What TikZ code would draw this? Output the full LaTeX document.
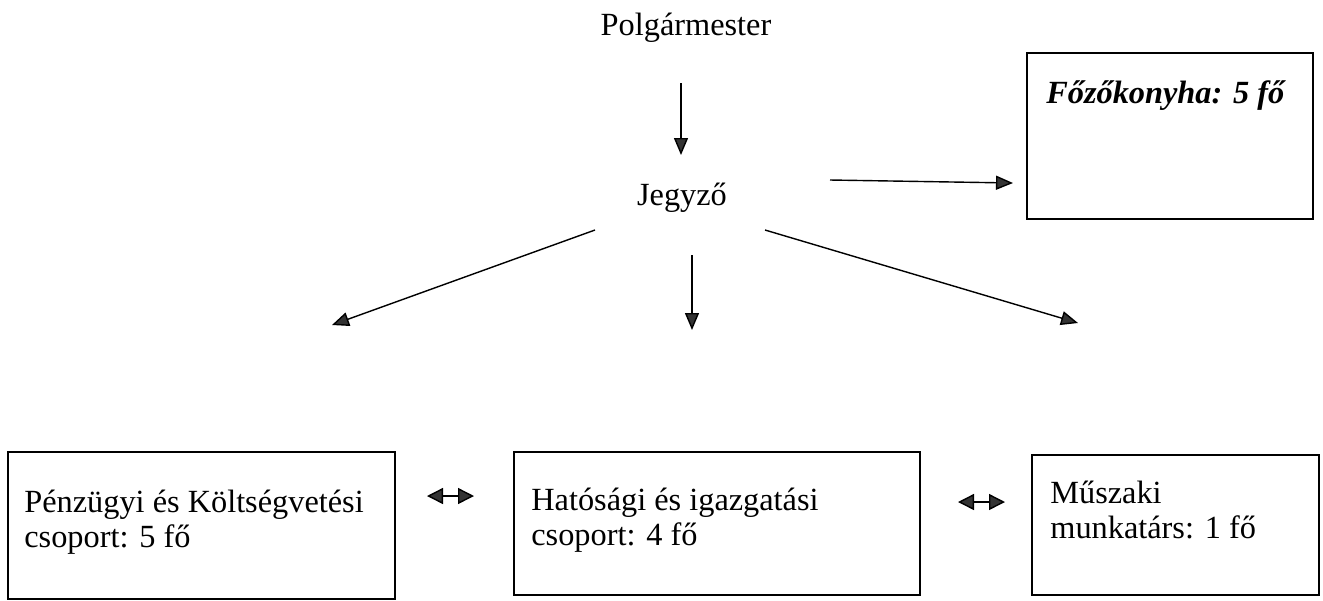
\documentclass[tikz,border=0pt]{standalone}
\usepackage{fontspec}
\setmainfont{Liberation Serif}
\usetikzlibrary{arrows.meta}
\begin{document}
\begin{tikzpicture}[x=0.02cm,y=-0.02cm,
    lbl/.style={inner sep=0,font=\fontsize{18.4}{20}\selectfont},
    box/.style={draw,line width=1.1pt,anchor=north west,inner sep=0},
    boxtext/.style={lbl,anchor=north west,align=left},
    arr/.style={line width=0.8pt,-{Triangle[length=0.34cm,width=0.28cm,fill=black!80]}},
    dblarr/.style={line width=0.8pt,{Triangle[length=0.32cm,width=0.32cm,fill=black!80]}-{Triangle[length=0.32cm,width=0.32cm,fill=black!80]}}]
    \useasboundingbox (0,0) rectangle (1323,600);
    %% Top of the chart
    \node[lbl,anchor=base] (P) at (686,35) {Polgármester};
    \node[lbl,anchor=base] (J) at (682,205) {Jegyző};
    %% Boxes
    \node[box,minimum width=5.72cm,minimum height=3.32cm] (F) at (1026,52) {};
    \node[box,minimum width=7.74cm,minimum height=2.94cm] (PK) at (7,451) {};
    \node[box,minimum width=8.12cm,minimum height=2.86cm] (HI) at (513,451) {};
    \node[box,minimum width=5.74cm,minimum height=2.8cm] (M) at (1031,454) {};
    %% Box texts
    \node[boxtext,font=\fontsize{18.4}{20}\selectfont\bfseries\itshape] (Ft) at ([shift={(20,28)}]F.north west) {Főzőkonyha: 5 fő};
    \node[boxtext] (PKt) at ([shift={(17,39)}]PK.north west) {Pénzügyi és Költségvetési\\csoport: 5 fő};
    \node[boxtext] (HIt) at ([shift={(18,37)}]HI.north west) {Hatósági és igazgatási\\csoport: 4 fő};
    \node[boxtext] (Mt) at ([shift={(19,27)}]M.north west) {Műszaki\\munkatárs: 1 fő};
    %% Arrow ends
    \coordinate (P1) at (681,83);
    \coordinate (J0) at (681,155);
    \coordinate (J1) at (830,180);
    \coordinate (F0) at (1013,183);
    \coordinate (J2) at (595,230);
    \coordinate (PK0) at (332,325);
    \coordinate (J3) at (692,255);
    \coordinate (HI0) at (692,330);
    \coordinate (J4) at (765,230);
    \coordinate (M0) at (1078,323);
    \coordinate (D1) at (427,496);
    \coordinate (D2) at (474,496);
    \coordinate (D3) at (958,502);
    \coordinate (D4) at (1005,502);
    %% Arrows
    \draw[arr] (P1) -- (J0);
    \draw[arr] (J1) -- (F0);
    \draw[arr] (J2) -- (PK0);
    \draw[arr] (J3) -- (HI0);
    \draw[arr] (J4) -- (M0);
    \draw[dblarr] (D1) -- (D2);
    \draw[dblarr] (D3) -- (D4);
\end{tikzpicture}
\end{document}
